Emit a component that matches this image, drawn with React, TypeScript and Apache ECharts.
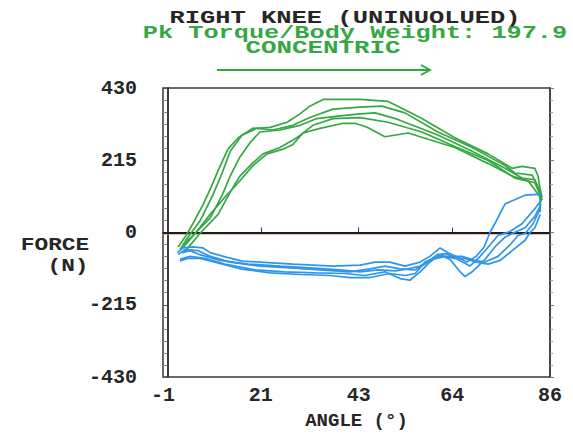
import React, { useEffect, useRef } from "react";
import * as echarts from "echarts";

const xLabelValues = [-1, 21, 43, 64, 86];
const xTickValues = [21, 43, 64];
const yMin = -430;
const yMax = 430;
const yStep = 215;

const titleLine1 = "RIGHT KNEE (UNINUOLUED)";
const titleLine2 = "Pk Torque/Body Weight: 197.9";
const titleLine3 = "CONCENTRIC";
const yName1 = "FORCE";
const yName2 = "(N)";
const xName = "ANGLE (°)";

// Concentric (green) repetitions: [angle, force]
const conc1 = [[2.4,-43],[4.2,-9],[5.7,26],[8.0,83],[9.6,128],[11.4,185],[13.6,248],[15.9,282],[19.2,310],[23.1,313],[26.9,328],[29.8,353],[32.0,376],[35.0,396],[43.3,396],[49.6,390],[51.8,376],[57.2,339],[64.6,282],[72.1,234],[77.5,191],[79.7,197],[82.6,191],[83.3,168],[83.8,128],[84.2,105]];
const conc2 = [[2.8,-51],[4.6,-14],[7.3,34],[10.2,111],[12.3,177],[14.1,242],[16.8,290],[20.1,310],[23.7,305],[28.2,319],[32.0,342],[37.2,367],[43.3,373],[48.2,376],[53.4,356],[60.8,299],[68.5,253],[75.9,199],[78.1,177],[82.0,171],[83.8,120],[84.2,97]];
const conc3 = [[3.5,-37],[5.7,-9],[9.6,43],[12.3,111],[14.1,168],[16.3,225],[18.6,268],[20.8,299],[25.3,305],[29.8,319],[33.6,339],[38.8,347],[43.3,353],[46.7,356],[51.2,339],[60.8,290],[68.5,242],[75.9,191],[79.7,162],[82.6,157],[83.8,120],[84.0,91]];
const conc4 = [[3.9,-57],[7.3,-3],[11.4,54],[14.1,120],[16.3,168],[19.0,205],[21.5,234],[25.3,253],[29.1,282],[32.7,319],[37.2,339],[43.3,342],[49.6,328],[57.2,299],[64.6,256],[72.1,214],[78.1,162],[82.6,148],[83.8,111],[83.8,77]];
const conc5 = [[3.3,-48],[6.6,3],[9.6,54],[12.9,105],[15.9,148],[19.2,199],[22.4,234],[26.0,248],[28.2,262],[30.5,296],[34.3,310],[39.5,325],[42.2,325],[44.9,313],[48.9,285],[54.1,296],[64.6,253],[72.1,205],[77.5,168],[81.1,154],[83.8,105],[83.8,60]];

// Return (blue) repetitions: [angle, force]
const ret1 = [[84.2,114],[80.4,111],[75.9,85],[73.9,34],[72.5,0],[71.2,-43],[69.4,-71],[67.3,-88],[65.3,-74],[63.1,-60],[61.3,-46],[59.0,-71],[56.8,-88],[53.4,-100],[50.0,-88],[46.7,-88],[43.3,-97],[37.2,-100],[28.2,-94],[20.8,-88],[16.8,-85],[13.4,-74],[9.6,-60],[8.0,-46],[5.7,-43],[3.5,-46],[2.2,-60]];
const ret2 = [[84.2,100],[82.6,71],[79.7,26],[77.0,3],[74.3,-9],[72.5,-37],[70.3,-71],[68.0,-100],[65.3,-80],[62.8,-63],[60.6,-66],[57.9,-94],[55.7,-111],[52.3,-108],[48.9,-100],[45.5,-108],[41.0,-117],[34.3,-111],[27.6,-105],[20.8,-100],[14.1,-88],[9.6,-71],[6.9,-54],[3.9,-51],[2.4,-66]];
const ret3 = [[84.0,85],[82.6,48],[80.4,14],[77.5,-3],[75.9,-14],[73.6,-43],[71.4,-80],[68.5,-117],[66.9,-131],[65.8,-117],[63.5,-80],[61.3,-66],[59.0,-88],[56.8,-117],[54.5,-142],[52.3,-137],[48.9,-117],[44.4,-128],[39.9,-122],[33.2,-120],[26.4,-117],[19.7,-111],[12.9,-94],[8.4,-77],[5.1,-71],[2.8,-80]];
const ret4 = [[83.8,71],[82.2,26],[80.4,-3],[78.8,-9],[77.0,-37],[74.3,-71],[71.4,-88],[69.1,-83],[66.2,-71],[63.5,-71],[60.8,-71],[57.9,-88],[55.7,-122],[53.4,-128],[50.0,-122],[45.5,-134],[41.0,-134],[36.5,-128],[29.8,-125],[23.1,-120],[16.3,-108],[10.7,-88],[7.3,-77],[4.6,-77],[2.8,-85]];
const ret5 = [[83.8,54],[82.6,14],[81.5,0],[80.4,-23],[77.5,-54],[74.8,-83],[72.1,-94],[69.4,-88],[66.9,-77],[64.6,-77],[62.4,-71],[59.5,-80],[56.8,-100],[54.1,-108],[51.2,-114],[47.3,-111],[43.3,-117],[38.8,-111],[32.0,-105],[25.3,-100],[18.1,-94],[11.8,-83],[7.3,-66],[5.1,-54],[3.3,-60]];

const concentricReps = [conc1, conc2, conc3, conc4, conc5];
const returnReps = [ret1, ret2, ret3, ret4, ret5];

const GREEN = "#35a843";
const BLUE = "#2f95ea";
const INK = "#262626";
const FONT = "'Liberation Mono', 'DejaVu Sans Mono', monospace";

export default function App() {
  const ref = useRef<HTMLDivElement>(null);

  useEffect(() => {
    if (!ref.current) return;
    const chart = echarts.init(ref.current, undefined, { renderer: "svg" });

    const lineSeries = (data: number[][], color: string, i: number) => ({
      type: "line",
      data,
      showSymbol: false,
      symbol: "none",
      smooth: false,
      silent: true,
      z: 3,
      lineStyle: { color, width: 1.7 },
      name: `${color}-${i}`,
    });

    const series: any[] = [];
    concentricReps.forEach((d, i) => series.push(lineSeries(d, GREEN, i)));
    returnReps.forEach((d, i) => series.push(lineSeries(d, BLUE, i)));
    series[0].markLine = {
      silent: true,
      symbol: ["none", "none"],
      label: { show: false },
      z: 2,
      data: [
        { yAxis: -5, lineStyle: { color: "#d99a3a", width: 1.5, type: "solid", opacity: 0.8 } },
        { yAxis: 0, lineStyle: { color: "#1c1c30", width: 2, type: "solid" } },
      ],
    };

    const labelStyle = { color: INK, fontFamily: FONT, fontWeight: "bold", fontSize: 20 };

    const textEl = (text: string, x: number, y: number, color: string, scaleX: number) => ({
      type: "text",
      x,
      y,
      scaleX,
      scaleY: 1,
      silent: true,
      style: {
        text,
        fill: color,
        font: `bold 19px ${FONT}`,
        align: "center",
        verticalAlign: "middle",
        textAlign: "center",
        textVerticalAlign: "middle",
      },
    });

    chart.setOption({
      animation: false,
      backgroundColor: "#ffffff",
      grid: {
        left: 163,
        right: 23,
        top: 88,
        bottom: 45,
        show: true,
        borderColor: "#3a3a3a",
        borderWidth: 1.5,
        backgroundColor: "transparent",
      },
      xAxis: {
        type: "value",
        min: -1,
        max: 86,
        name: xName,
        nameLocation: "middle",
        nameGap: 34,
        nameTextStyle: { ...labelStyle, fontSize: 19 },
        axisLine: { show: true, lineStyle: { color: "#3a3a3a", width: 2 } },
        axisTick: { show: true, inside: true, length: 5, customValues: xTickValues, lineStyle: { color: "#3a3a3a" } },
        axisLabel: {
          ...labelStyle,
          margin: 8,
          customValues: xLabelValues,
          formatter: (v: number) => String(Math.round(v)),
        },
        splitLine: { show: false },
      },
      yAxis: [
        {
          type: "value",
          min: yMin,
          max: yMax,
          interval: yStep,
          axisLine: { show: true, lineStyle: { color: "#3a3a3a", width: 2 } },
          axisTick: { show: true, inside: false, length: 4, lineStyle: { color: "#555" } },
          minorTick: { show: true, splitNumber: 6, length: 3, lineStyle: { color: "#777" } },
          axisLabel: { ...labelStyle, margin: 26 },
          splitLine: { show: false },
        },
        {
          type: "value",
          position: "right",
          min: yMin,
          max: yMax,
          interval: yStep,
          axisLine: { show: true, lineStyle: { color: "#3a3a3a", width: 1.5 } },
          axisTick: { show: true, inside: false, length: 4, lineStyle: { color: "#777" } },
          minorTick: { show: true, splitNumber: 6, length: 3, lineStyle: { color: "#999" } },
          axisLabel: { show: false },
          splitLine: { show: false },
        },
      ],
      series,
      graphic: [
        textEl(titleLine1, 345, 17.5, INK, 1.34),
        textEl(titleLine2, 355, 32.5, GREEN, 1.33),
        textEl(titleLine3, 323, 48, GREEN, 1.36),
        {
          type: "line",
          silent: true,
          shape: { x1: 217, y1: 70, x2: 430, y2: 70 },
          style: { stroke: GREEN, lineWidth: 2 },
        },
        {
          type: "polyline",
          silent: true,
          shape: { points: [[421, 65], [430, 70], [421, 75]] },
          style: { stroke: GREEN, lineWidth: 2, fill: "none" },
        },
        textEl(yName1, 55, 245, INK, 1.2),
        textEl(yName2, 68, 266, INK, 1.2),
      ],
    });

    return () => chart.dispose();
  }, []);

  return (
    <div
      ref={ref}
      style={{ position: "fixed", left: 0, top: 0, width: 573, height: 435, background: "#fff" }}
    />
  );
}
